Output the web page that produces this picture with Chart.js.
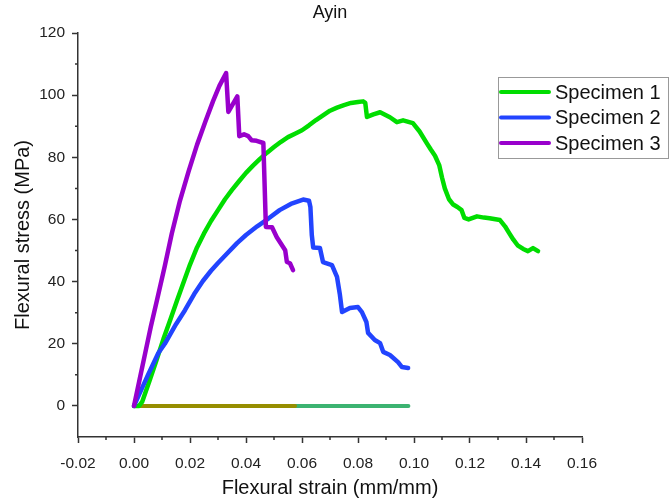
<!DOCTYPE html>
<html>
<head>
<meta charset="utf-8">
<title>Ayin</title>
<script src="https://cdn.jsdelivr.net/npm/chart.js@4.4.1/dist/chart.umd.min.js"></script>
<style>
    html, body { margin: 0; padding: 0; background: #fff; }
</style>
</head>
<body>
<canvas id="flexChart" width="671" height="503"></canvas>
<script>
// flexural test curves, strain (mm/mm) vs stress (MPa)
const strain1 = [0, 0.0018, 0.0029, 0.0057, 0.008, 0.0105, 0.0129, 0.0154, 0.018, 0.02, 0.0225, 0.025, 0.0275, 0.03, 0.0325, 0.035, 0.0375, 0.04, 0.0425, 0.045, 0.0475, 0.05, 0.0525, 0.055, 0.0575, 0.06, 0.0625, 0.065, 0.0675, 0.07, 0.0725, 0.075, 0.0775, 0.08, 0.0818, 0.0826, 0.0832, 0.0855, 0.0879, 0.0914, 0.0939, 0.0961, 0.0996, 0.102, 0.1046, 0.106, 0.1075, 0.109, 0.11, 0.111, 0.1125, 0.114, 0.1155, 0.117, 0.118, 0.1195, 0.121, 0.1225, 0.125, 0.127, 0.1307, 0.1325, 0.134, 0.1355, 0.137, 0.139, 0.1407, 0.1425, 0.1443];
const stress1 = [0, 0, 1.3, 8.5, 14.6, 21.5, 27.6, 34, 40.5, 45.5, 51, 55.5, 59.5, 63, 66.5, 69.5, 72.3, 75, 77.3, 79.5, 81.5, 83.3, 85, 86.5, 87.6, 88.7, 90.3, 92, 93.5, 95, 96, 96.8, 97.5, 97.8, 98, 97.5, 93, 93.8, 94.5, 92.9, 91.3, 91.9, 91, 88.3, 84.5, 82.5, 80.5, 77.5, 73.5, 70, 66.5, 64.8, 64, 63, 60.5, 60, 60.5, 61, 60.6, 60.4, 59.8, 57.8, 55.6, 53.5, 51.7, 50.5, 49.8, 50.8, 49.8];

const strain2 = [0, 0.0015, 0.005, 0.0087, 0.011, 0.015, 0.0182, 0.0215, 0.0246, 0.0275, 0.03, 0.0335, 0.0368, 0.04, 0.044, 0.048, 0.052, 0.056, 0.0604, 0.0625, 0.063, 0.0635, 0.064, 0.0664, 0.0675, 0.0707, 0.0725, 0.0735, 0.0743, 0.0771, 0.08, 0.0814, 0.083, 0.0836, 0.086, 0.0879, 0.089, 0.0914, 0.0943, 0.0957, 0.0979];
const stress2 = [0, 3, 10, 17, 20, 26.3, 30.8, 36, 40.2, 43.5, 46, 49.3, 52.4, 55, 57.8, 60.3, 63, 65, 66.4, 66, 64, 55, 51, 50.8, 46.3, 45.3, 41.5, 36, 30.2, 31.5, 31.8, 30.2, 27, 23.5, 21.2, 20.2, 17.4, 16.4, 14.1, 12.5, 12.2];

const strain3 = [0, 0.002, 0.004, 0.006, 0.0082, 0.011, 0.0135, 0.0164, 0.0195, 0.0225, 0.0255, 0.0282, 0.0305, 0.0329, 0.0337, 0.0369, 0.0376, 0.0393, 0.0408, 0.042, 0.0438, 0.0462, 0.0471, 0.0493, 0.051, 0.054, 0.0546, 0.0557, 0.0568];
const stress3 = [0, 8.5, 17, 25.5, 34, 45, 55.5, 66, 75.5, 84, 91.5, 98, 103, 107.1, 94.6, 99.6, 86.8, 87.4, 86.8, 85.5, 85.3, 84.6, 57.6, 57.5, 54.3, 50.1, 46.3, 45.9, 43.7];

// zero-stress traces along the strain axis
const baseStrainA = [0, 0.0575];
const baseStrainB = [0, 0.098];
const baseStress = [0, 0];

const seriesNames = ['Specimen 1', 'Specimen 2', 'Specimen 3'];
const seriesColors = ['#00dd00', '#2244ff', '#9900cc'];

const xTicks = [-0.02, 0, 0.02, 0.04, 0.06, 0.08, 0.10, 0.12, 0.14, 0.16];
const yTicks = [0, 20, 40, 60, 80, 100, 120];

const toPoints = (xs, ys) => xs.map((x, i) => ({ x: x, y: ys[i] }));

Chart.defaults.font.family = "'Liberation Sans', Arial, sans-serif";
Chart.defaults.color = '#222';

// minor ticks halfway between the labelled ones
const minorTicks = {
    id: 'minorTicks',
    afterDraw(chart) {
        const { ctx, scales: { x, y } } = chart;
        ctx.save();
        ctx.strokeStyle = '#333';
        ctx.lineWidth = 1.5;
        ctx.beginPath();
        for (let i = 0; i < xTicks.length - 1; i++) {
            const px = x.getPixelForValue((xTicks[i] + xTicks[i + 1]) / 2);
            ctx.moveTo(px, x.top);
            ctx.lineTo(px, x.top + 3);
        }
        for (let i = 0; i < yTicks.length - 1; i++) {
            const py = y.getPixelForValue((yTicks[i] + yTicks[i + 1]) / 2);
            ctx.moveTo(y.right, py);
            ctx.lineTo(y.right - 3, py);
        }
        ctx.stroke();
        ctx.restore();
    }
};

// boxed legend in the top right corner
const boxLegend = {
    id: 'boxLegend',
    afterDraw(chart) {
        const ctx = chart.ctx;
        const left = 498, top = 77, w = 170, h = 81, row = 25.5;
        ctx.save();
        ctx.fillStyle = '#fff';
        ctx.fillRect(left, top, w, h);
        ctx.strokeStyle = '#999';
        ctx.lineWidth = 1;
        ctx.strokeRect(left + 0.5, top + 0.5, w, h);
        ctx.font = "20px 'Liberation Sans', Arial, sans-serif";
        ctx.textBaseline = 'middle';
        ctx.lineCap = 'round';
        seriesNames.forEach((name, i) => {
            const cy = top + 15 + i * row;
            ctx.strokeStyle = seriesColors[i];
            ctx.lineWidth = 4;
            ctx.beginPath();
            ctx.moveTo(left + 3, cy);
            ctx.lineTo(left + 51, cy);
            ctx.stroke();
            ctx.fillStyle = '#111';
            ctx.fillText(name, left + 57, cy + 1);
        });
        ctx.restore();
    }
};

const lineStyle = {
    showLine: true,
    pointRadius: 0,
    borderWidth: 4.5,
    tension: 0,
    fill: false,
    borderCapStyle: 'round',
    borderJoinStyle: 'round'
};

new Chart(document.getElementById('flexChart'), {
    type: 'scatter',
    data: {
        datasets: [
            { ...lineStyle, label: seriesNames[2], data: toPoints(strain3, stress3), borderColor: seriesColors[2], order: 0 },
            { ...lineStyle, label: seriesNames[1], data: toPoints(strain2, stress2), borderColor: seriesColors[1], order: 1 },
            { ...lineStyle, label: seriesNames[0], data: toPoints(strain1, stress1), borderColor: seriesColors[0], order: 2 },
            { ...lineStyle, borderWidth: 4, data: toPoints(baseStrainA, baseStress), borderColor: '#968e00', order: 3 },
            { ...lineStyle, borderWidth: 4, data: toPoints(baseStrainB, baseStress), borderColor: '#3cb371', order: 4 }
        ]
    },
    options: {
        responsive: false,
        animation: false,
        layout: { padding: { top: 0, right: 89, bottom: 0, left: 0 } },
        plugins: {
            legend: { display: false },
            tooltip: { enabled: false },
            title: {
                display: true,
                text: 'Ayin',
                fullSize: false,
                font: { size: 18, weight: 'normal' },
                color: '#111',
                padding: { top: 2, bottom: 9.4 }
            }
        },
        scales: {
            x: {
                type: 'linear',
                min: -0.02,
                max: 0.16,
                afterFit: s => { s.height = 66; },
                afterBuildTicks: s => { s.ticks = xTicks.map(v => ({ value: v })); },
                ticks: {
                    callback: v => v.toFixed(2),
                    font: { size: 15.5 },
                    color: '#222',
                    padding: 11,
                    maxRotation: 0
                },
                grid: { drawOnChartArea: false, tickLength: 6, tickWidth: 1.5, tickColor: '#333' },
                border: { color: '#333', width: 1.5 },
                title: {
                    display: true,
                    text: 'Flexural strain (mm/mm)',
                    font: { size: 20 },
                    color: '#111',
                    padding: { top: 0, bottom: 3 }
                }
            },
            y: {
                type: 'linear',
                min: -10,
                max: 120,
                afterFit: s => { s.width = 78; },
                afterBuildTicks: s => { s.ticks = yTicks.map(v => ({ value: v })); },
                ticks: {
                    font: { size: 15.5 },
                    color: '#222',
                    padding: 7
                },
                grid: { drawOnChartArea: false, tickLength: 6, tickWidth: 1.5, tickColor: '#333' },
                border: { color: '#333', width: 1.5 },
                title: {
                    display: true,
                    text: 'Flexural stress (MPa)',
                    font: { size: 20 },
                    color: '#111',
                    padding: { top: 11, bottom: 0 }
                }
            }
        }
    },
    plugins: [minorTicks, boxLegend]
});
</script>
</body>
</html>
